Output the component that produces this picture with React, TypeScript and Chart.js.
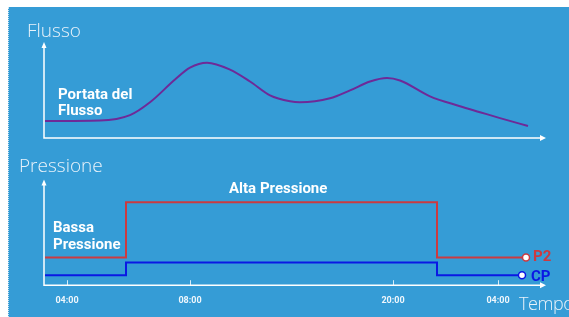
import React, { useEffect, useRef } from "react";
import { Chart, registerables } from "chart.js";

Chart.register(...registerables);

// x positions are in diagram units along the time axis (axis origin = 0, axis end = 500)
const flowX = [1, 56, 86, 106, 131, 146, 163, 186, 206, 226, 246, 256, 286, 306, 326, 343, 356, 386, 416, 436, 456, 484];
const flowY = [17, 17.5, 23, 36, 59, 71, 76, 69, 57, 43, 37, 36, 40, 48, 57, 60.5, 58, 42, 32, 26, 20, 12];

const p2X = [1, 82, 393, 482];
const p2Y = [28, 84, 28, 28];

const cpX = [1, 82, 393, 478];
const cpY = [10, 23, 10, 10];

const tickValues = [23, 146, 349, 454];
const tickLabels = ["04:00", "08:00", "20:00", "04:00"];

const PURPLE = "#6E2A98";
const RED = "#CC3A40";
const BLUE = "#0A18E4";
const BG = "#359CD6";

const axesPlugin = {
  id: "diagramAxes",
  beforeDatasetsDraw(chart: any) {
    const { ctx, scales } = chart;
    const x = scales.x;
    const x0 = x.getPixelForValue(0);
    const xEnd = x.getPixelForValue(502);
    ctx.save();
    ctx.strokeStyle = "#ffffff";
    ctx.fillStyle = "#ffffff";
    ctx.lineWidth = 1.5;
    const pairs: [any, number][] = [
      [scales.yFlow, 97],
      [scales.yPress, 107],
    ];
    for (const [ys, top] of pairs) {
      const yb = ys.getPixelForValue(0);
      const yt = ys.getPixelForValue(top);
      ctx.beginPath();
      ctx.moveTo(x0, yt + 4);
      ctx.lineTo(x0, yb);
      ctx.lineTo(xEnd - 4, yb);
      ctx.stroke();
      ctx.beginPath();
      ctx.moveTo(x0, yt);
      ctx.lineTo(x0 - 2.5, yt + 6);
      ctx.lineTo(x0 + 2.5, yt + 6);
      ctx.closePath();
      ctx.fill();
      ctx.beginPath();
      ctx.moveTo(xEnd, yb);
      ctx.lineTo(xEnd - 6, yb - 3);
      ctx.lineTo(xEnd - 6, yb + 3);
      ctx.closePath();
      ctx.fill();
    }
    const yb = scales.yPress.getPixelForValue(0);
    ctx.lineWidth = 1;
    ctx.strokeStyle = "rgba(255,255,255,0.8)";
    x.ticks.forEach((_t: any, i: number) => {
      const px = Math.round(x.getPixelForTick(i)) + 0.5;
      ctx.beginPath();
      ctx.moveTo(px, yb - 5);
      ctx.lineTo(px, yb);
      ctx.stroke();
    });
    ctx.restore();
  },
};

const lastOnly = (n: number, r: number) => Array.from({ length: n }, (_v, i) => (i === n - 1 ? r : 0));

export default function App() {
  const ref = useRef<HTMLCanvasElement | null>(null);
  useEffect(() => {
    if (!ref.current) return;
    const chart = new Chart(ref.current, {
      type: "line",
      data: {
        datasets: [
          {
            label: "Portata del Flusso",
            data: flowX.map((v, i) => ({ x: v, y: flowY[i] })),
            yAxisID: "yFlow",
            borderColor: PURPLE,
            borderWidth: 2,
            pointRadius: 0,
            cubicInterpolationMode: "monotone",
          },
          {
            label: "P2",
            data: p2X.map((v, i) => ({ x: v, y: p2Y[i] })),
            yAxisID: "yPress",
            borderColor: RED,
            borderWidth: 2,
            stepped: "before",
            pointRadius: lastOnly(p2X.length, 3.5),
            pointBackgroundColor: "#ffffff",
            pointBorderColor: RED,
            pointBorderWidth: 1.5,
          },
          {
            label: "CP",
            data: cpX.map((v, i) => ({ x: v, y: cpY[i] })),
            yAxisID: "yPress",
            borderColor: BLUE,
            borderWidth: 2,
            stepped: "before",
            pointRadius: lastOnly(cpX.length, 3.5),
            pointBackgroundColor: "#ffffff",
            pointBorderColor: BLUE,
            pointBorderWidth: 1.5,
          },
        ],
      },
      options: {
        animation: false,
        responsive: false,
        devicePixelRatio: 1,
        layout: { padding: { left: 36, right: 25, top: 32, bottom: 1 } },
        plugins: { legend: { display: false }, tooltip: { enabled: false }, title: { display: false } },
        scales: {
          x: {
            type: "linear",
            min: 0,
            max: 500,
            afterBuildTicks: (scale: any) => {
              scale.ticks = tickValues.map((v) => ({ value: v }));
            },
            ticks: {
              padding: 10,
              color: "#EEF6FC",
              font: { family: "Roboto", size: 9, weight: "bold" },
              maxRotation: 0,
              autoSkip: false,
              callback: (_v: any, i: number) => tickLabels[i],
            },
            grid: { display: false, drawTicks: false },
            border: { display: false },
          },
          yFlow: { type: "linear", display: false, min: -149, max: 100 },
          yPress: { type: "linear", display: false, min: 0, max: 249 },
        },
      } as any,
      plugins: [axesPlugin],
    });
    return () => chart.destroy();
  }, []);

  const boldLabel: React.CSSProperties = {
    position: "absolute",
    fontFamily: "Roboto, sans-serif",
    fontWeight: 700,
    fontSize: 15,
    whiteSpace: "nowrap",
    color: "#ffffff",
  };
  const lightTitle: React.CSSProperties = {
    position: "absolute",
    fontFamily: "'Open Sans', sans-serif",
    fontWeight: 300,
    fontSize: 19,
    lineHeight: "19px",
    whiteSpace: "nowrap",
    color: "#E8F2FA",
  };

  return (
    <div style={{ position: "absolute", left: 0, top: 0, width: 569, height: 317, overflow: "hidden", background: "#ffffff" }}>
      <div style={{ position: "absolute", left: 8, top: 7, width: 561, height: 310, background: BG }} />
      <div style={{ position: "absolute", left: 8, top: 7, width: 0, height: 310, borderLeft: "1px dotted rgba(255,255,255,0.75)" }} />
      <canvas ref={ref} width={561} height={310} style={{ position: "absolute", left: 8, top: 7, width: 561, height: 310 }} />
      <div style={{ ...lightTitle, left: 27, top: 21 }}>Flusso</div>
      <div style={{ ...lightTitle, left: 19, top: 156 }}>Pressione</div>
      <div style={{ ...lightTitle, left: 519, top: 294, fontSize: 18, letterSpacing: "-0.4px" }}>Tempo</div>
      <div style={{ ...boldLabel, left: 58, top: 86, lineHeight: "16px" }}>
        Portata del
        <br />
        Flusso
      </div>
      <div style={{ ...boldLabel, left: 53, top: 219, lineHeight: "17px" }}>
        Bassa
        <br />
        Pressione
      </div>
      <div style={{ ...boldLabel, left: 229, top: 180, lineHeight: "16px" }}>Alta Pressione</div>
      <div style={{ ...boldLabel, left: 533, top: 248, lineHeight: "16px", color: RED }}>P2</div>
      <div style={{ ...boldLabel, left: 531, top: 268, lineHeight: "16px", color: BLUE }}>CP</div>
    </div>
  );
}
